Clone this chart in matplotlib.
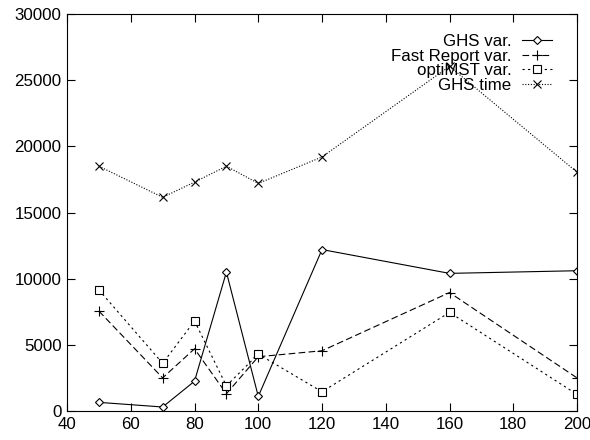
import numpy as np
from matplotlib import pyplot as plt

plt.rcParams['font.family'] = ['Liberation Sans', 'DejaVu Sans']

# Data
nodes = [50, 70, 80, 90, 100, 120, 160, 200]
ghs_var = [650, 300, 2250, 10500, 1100, 12200, 10400, 10600]
fast_report_var = [7550, 2500, 4700, 1300, 4100, 4550, 8950, 2500]
optimst_var = [9150, 3600, 6800, 1900, 4300, 1450, 7450, 1250]
ghs_time = [18500, 16150, 17300, 18500, 17200, 19200, 26050, 18050]

x_ticks = np.arange(40, 201, 20)
y_ticks = np.arange(0, 30001, 5000)

fs = 12.2

fig = plt.figure(figsize=(5.9, 4.4), dpi=100)
ax = fig.add_axes([0.1136, 0.066, 0.8644, 0.902])

lw = 0.8
ax.plot(nodes, ghs_var, color='black', lw=lw, marker='D', ms=4.5,
        mfc='white', mew=0.8, label='GHS var.')
ax.plot(nodes, fast_report_var, color='black', lw=lw, dashes=(6, 3),
        marker='+', ms=7, mew=0.8, label='Fast Report var.')
ax.plot(nodes, optimst_var, color='black', lw=lw, dashes=(2, 3),
        marker='s', ms=6, mfc='white', mew=0.8, label='optiMST var.')
ax.plot(nodes, ghs_time, color='black', lw=lw, dashes=(1, 1.5),
        marker='x', ms=6, mew=0.8, label='GHS time')

ax.set_xlim(40, 200)
ax.set_ylim(0, 30000)
ax.set_xticks(x_ticks)
ax.set_yticks(y_ticks)
ax.tick_params(direction='in', top=True, right=True, length=6, width=0.8,
               labelsize=fs, pad=4)
for s in ax.spines.values():
    s.set_linewidth(0.8)

ax.legend(loc='upper right', frameon=False, markerfirst=False, fontsize=fs,
          handlelength=1.8, labelspacing=-0.02, handletextpad=0.6,
          borderaxespad=0.0, bbox_to_anchor=(0.965, 0.967))

plt.savefig('out.png', dpi=100)
